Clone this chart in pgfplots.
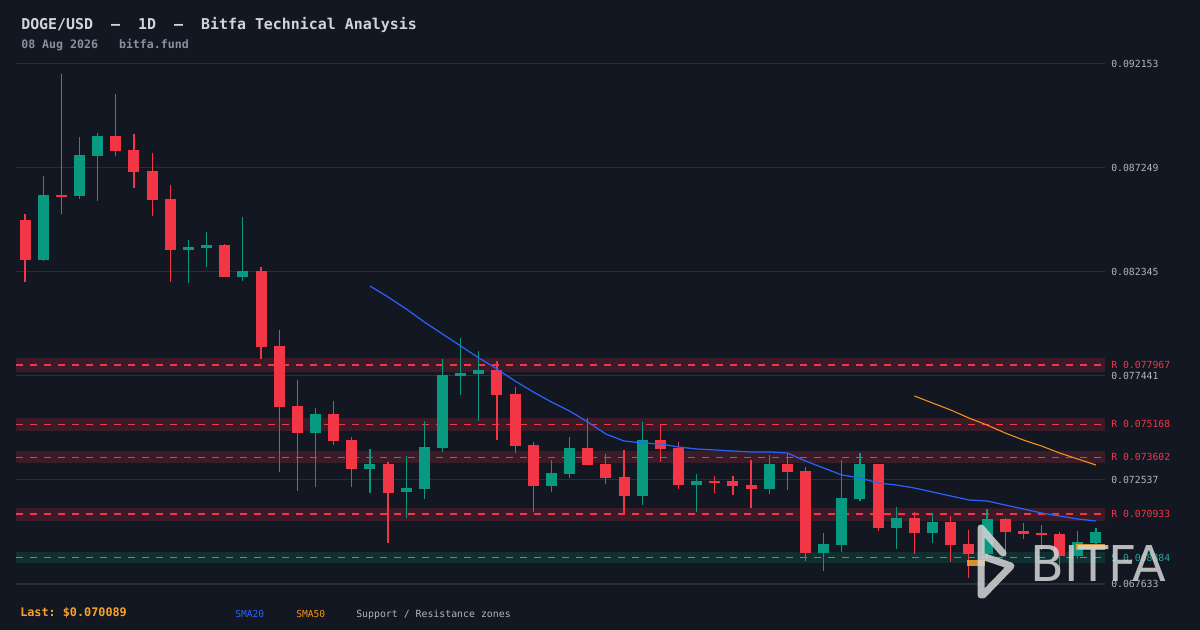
\documentclass[border=0pt]{standalone}
\usepackage{pgfplots}
\pgfplotsset{compat=1.18}
\usepackage{pgfplotstable}
\usepackage{fontspec}
\setmainfont{DejaVu Sans}
\setmonofont{DejaVu Sans Mono}
\newfontfamily\logofont{DejaVu Sans}

\definecolor{bg}{HTML}{131722}
\definecolor{gridc}{HTML}{2A2E39}
\definecolor{upc}{HTML}{089981}
\definecolor{dnc}{HTML}{F23645}
\definecolor{zr}{HTML}{3A1C28}
\definecolor{zs}{HTML}{10302F}
\definecolor{sline}{HTML}{26A69A}
\definecolor{smaA}{HTML}{2962FF}
\definecolor{smaB}{HTML}{F7931A}
\definecolor{lbl}{HTML}{B2B5BE}
\definecolor{titlec}{HTML}{D1D4DC}
\definecolor{subc}{HTML}{8A8F9C}
\definecolor{lastc}{HTML}{F7A32B}
\definecolor{logoc}{HTML}{D6D6D6}

\pgfplotstableread{
i o h l c
1 0.082911 0.086872 0.082864 0.085976
3 0.085929 0.088711 0.085787 0.087862
4 0.087815 0.088899 0.085693 0.088758
9 0.083382 0.083854 0.081826 0.083524
10 0.083477 0.084231 0.082581 0.083618
12 0.082109 0.084938 0.081921 0.082392
16 0.074753 0.075932 0.072207 0.075649
19 0.073056 0.073999 0.071924 0.073291
21 0.071971 0.073669 0.070745 0.072160
22 0.072113 0.075319 0.071641 0.074093
23 0.074046 0.078243 0.073857 0.077488
24 0.077441 0.079233 0.076545 0.077582
25 0.077535 0.078620 0.075319 0.077724
29 0.072254 0.073480 0.071971 0.072867
30 0.072820 0.074565 0.072631 0.074046
34 0.071783 0.075272 0.071358 0.074423
37 0.072301 0.072820 0.071028 0.072490
41 0.072113 0.073716 0.071877 0.073291
44 0.069095 0.070038 0.068246 0.069519
45 0.069472 0.073480 0.069142 0.071688
46 0.071641 0.073810 0.071547 0.073291
48 0.070274 0.071264 0.069283 0.070745
50 0.070038 0.070934 0.069566 0.070557
53 0.069048 0.071170 0.068859 0.070698
58 0.068953 0.070132 0.068812 0.069613
59 0.069566 0.070274 0.069519 0.070089
}\upT

\pgfplotstableread{
i o h l c
0 0.084797 0.085080 0.081873 0.082911
2 0.085976 0.091681 0.085080 0.085882
5 0.088758 0.090738 0.087815 0.088051
6 0.088098 0.088852 0.086306 0.087060
7 0.087108 0.087956 0.084986 0.085740
8 0.085787 0.086447 0.081873 0.083382
11 0.083618 0.083665 0.082109 0.082109
13 0.082392 0.082581 0.078243 0.078808
14 0.078856 0.079610 0.072914 0.075979
15 0.076026 0.077252 0.072018 0.074753
17 0.075649 0.076262 0.074187 0.074376
18 0.074423 0.074565 0.072207 0.073056
20 0.073291 0.073386 0.069566 0.071924
26 0.077724 0.078148 0.074423 0.076545
27 0.076592 0.076922 0.073810 0.074140
28 0.074187 0.074329 0.071028 0.072254
31 0.074046 0.075461 0.073244 0.073244
32 0.073291 0.073763 0.072348 0.072631
33 0.072678 0.073952 0.070887 0.071783
35 0.074423 0.075178 0.073386 0.073999
36 0.074046 0.074329 0.072113 0.072301
38 0.072490 0.072726 0.071924 0.072396
39 0.072490 0.072726 0.071830 0.072254
40 0.072301 0.073480 0.071217 0.072113
42 0.073291 0.073763 0.072065 0.072914
43 0.072961 0.073150 0.068718 0.069095
47 0.073291 0.073291 0.070132 0.070274
49 0.070745 0.071028 0.069048 0.070038
51 0.070557 0.070839 0.068670 0.069472
52 0.069519 0.070179 0.067916 0.069048
54 0.070698 0.070745 0.068906 0.070085
55 0.070132 0.070509 0.069755 0.069991
56 0.070038 0.070415 0.069236 0.069944
57 0.069991 0.070085 0.068293 0.068953
}\dnT

\pgfplotstableread{
i v
19 0.081685
20 0.081166
21 0.080600
22 0.079987
23 0.079421
24 0.078856
25 0.078290
26 0.077771
27 0.077205
28 0.076687
29 0.076215
30 0.075791
31 0.075272
32 0.074706
33 0.074376
34 0.074282
35 0.074235
36 0.074093
37 0.073999
38 0.073952
39 0.073904
40 0.073857
41 0.073857
42 0.073810
43 0.073433
44 0.073103
45 0.072773
46 0.072631
47 0.072396
48 0.072301
49 0.072160
50 0.071971
51 0.071783
52 0.071594
53 0.071547
54 0.071358
55 0.071170
56 0.070981
57 0.070839
58 0.070698
59 0.070604
}\smaAT

\pgfplotstableread{
i v
49 0.076498
50 0.076168
51 0.075838
52 0.075461
53 0.075130
54 0.074753
55 0.074423
56 0.074140
57 0.073810
58 0.073527
59 0.073244
}\smaBT

\begin{document}
\begin{tikzpicture}[x=0.75pt,y=-0.75pt]
\fill[bg] (0,0) rectangle (1200,630);
\useasboundingbox (0,0) rectangle (1200,630);
\coordinate (axpos) at (16,592);
\begin{axis}[
  at={(axpos)}, anchor=south west,
  scale only axis, width=816.75pt, height=400.5pt,
  xmin=-0.5, xmax=59.5, ymin=0.0672558, ymax=0.0924359,
  axis line style={draw=none}, tick style={draw=none},
  xtick=\empty, scaled y ticks=false,
  ytick={0.067633,0.072537,0.077441,0.082345,0.087249,0.092153},
  yticklabels={0.067633,0.072537,0.077441,0.082345,0.087249,0.092153},
  yticklabel pos=right,
  yticklabel style={font=\ttfamily\fontsize{7.35}{8}\selectfont, text=lbl, anchor=west, inner sep=0pt, xshift=4.5pt},
  ymajorgrids, grid style={gridc, line width=0.75pt},
  clip mode=individual,
]
% zones
\addplot[fill=zr, draw=none] coordinates {(-0.5,0.077616) (59.5,0.077616) (59.5,0.078276) (-0.5,0.078276)};
\addplot[fill=zr, draw=none] coordinates {(-0.5,0.074862) (59.5,0.074862) (59.5,0.075447) (-0.5,0.075447)};
\addplot[fill=zr, draw=none] coordinates {(-0.5,0.073324) (59.5,0.073324) (59.5,0.073904) (-0.5,0.073904)};
\addplot[fill=zr, draw=none] coordinates {(-0.5,0.070618) (59.5,0.070618) (59.5,0.071203) (-0.5,0.071203)};
\addplot[fill=zs, draw=none] coordinates {(-0.5,0.068638) (59.5,0.068638) (59.5,0.069156) (-0.5,0.069156)};
\addplot[dnc, line width=1pt, dash pattern=on 5.5pt off 5pt] coordinates {(-0.5,0.077967) (59.5,0.077967)};
\addplot[dnc, line width=1pt, dash pattern=on 5.5pt off 5pt] coordinates {(-0.5,0.075168) (59.5,0.075168)};
\addplot[dnc, line width=1pt, dash pattern=on 5.5pt off 5pt] coordinates {(-0.5,0.073602) (59.5,0.073602)};
\addplot[dnc, line width=1pt, dash pattern=on 5.5pt off 5pt] coordinates {(-0.5,0.070933) (59.5,0.070933)};
\addplot[sline, line width=1pt, dash pattern=on 5pt off 5.5pt] coordinates {(-0.5,0.068884) (59.5,0.068884)};
% wicks
\addplot[draw=none, mark=none, error bars/.cd, y dir=both, y explicit, error mark=none,
  error bar style={draw=upc, line width=0.9pt, solid}]
  table[x=i, y expr={(\thisrow{h}+\thisrow{l})/2}, y error expr={(\thisrow{h}-\thisrow{l})/2}] {\upT};
\addplot[draw=none, mark=none, error bars/.cd, y dir=both, y explicit, error mark=none,
  error bar style={draw=dnc, line width=0.9pt, solid}]
  table[x=i, y expr={(\thisrow{h}+\thisrow{l})/2}, y error expr={(\thisrow{h}-\thisrow{l})/2}] {\dnT};
% bodies
\addplot[draw=none, mark=none, error bars/.cd, y dir=both, y explicit, error mark=none,
  error bar style={draw=upc, line width=8.25pt, solid}]
  table[x=i, y expr={(\thisrow{o}+\thisrow{c})/2}, y error expr={(\thisrow{c}-\thisrow{o})/2}] {\upT};
\addplot[draw=none, mark=none, error bars/.cd, y dir=both, y explicit, error mark=none,
  error bar style={draw=dnc, line width=8.25pt, solid}]
  table[x=i, y expr={(\thisrow{o}+\thisrow{c})/2}, y error expr={(\thisrow{o}-\thisrow{c})/2}] {\dnT};
% moving averages
\addplot[smaA, line width=0.9pt, mark=none] table[x=i, y=v] {\smaAT};
\addplot[smaB, line width=0.8pt, mark=none] table[x=i, y=v] {\smaBT};
% price markers
\addplot[lastc, line width=4pt, opacity=0.85] coordinates {(57.9,0.069378) (59.5,0.069378)};
\addplot[lastc, line width=4pt, opacity=0.85] coordinates {(51.9,0.068623) (52.9,0.068623)};
% zone labels
\node[anchor=west, inner sep=0pt, xshift=4.5pt, text=dnc, font=\ttfamily\fontsize{7.35}{8}\selectfont] at (axis cs:59.5,0.077967) {R 0.077967};
\node[anchor=west, inner sep=0pt, xshift=4.5pt, text=dnc, font=\ttfamily\fontsize{7.35}{8}\selectfont] at (axis cs:59.5,0.075168) {R 0.075168};
\node[anchor=west, inner sep=0pt, xshift=4.5pt, text=dnc, font=\ttfamily\fontsize{7.35}{8}\selectfont] at (axis cs:59.5,0.073602) {R 0.073602};
\node[anchor=west, inner sep=0pt, xshift=4.5pt, text=dnc, font=\ttfamily\fontsize{7.35}{8}\selectfont] at (axis cs:59.5,0.070933) {R 0.070933};
\node[anchor=west, inner sep=0pt, xshift=4.5pt, text=sline, font=\ttfamily\fontsize{7.35}{8}\selectfont] at (axis cs:59.5,0.068884) {S 0.068884};
\end{axis}
% titles
\node[anchor=base west, inner sep=0pt, text=titlec, font=\ttfamily\bfseries\fontsize{11.2}{13}\selectfont] at (21,29.5) {DOGE/USD\ \ –\ \ 1D\ \ –\ \ Bitfa Technical Analysis};
\node[anchor=base west, inner sep=0pt, text=subc, font=\ttfamily\bfseries\fontsize{8.7}{10}\selectfont] at (21,49) {08 Aug 2026\ \ \ bitfa.fund};
% footer
\node[anchor=base west, inner sep=0pt, text=lastc, font=\ttfamily\bfseries\fontsize{8.85}{10}\selectfont] at (20,617) {Last: \$0.070089};
\node[anchor=base west, inner sep=0pt, text=smaA, font=\ttfamily\fontsize{7.2}{9}\selectfont] at (235,618) {SMA20};
\node[anchor=base west, inner sep=0pt, text=smaB, font=\ttfamily\fontsize{7.2}{9}\selectfont] at (296,618) {SMA50};
\node[anchor=base west, inner sep=0pt, text=lbl, font=\ttfamily\fontsize{7.4}{9}\selectfont] at (356,618) {Support / Resistance zones};
% watermark logo
\draw[logoc, opacity=0.85, line width=5.25pt, line cap=round, line join=round]
  (981,528) -- (981,595) (981,528) -- (1003,553) (985,557) -- (1011,566) -- (983,595);
\node[anchor=base west, inner sep=0pt, text=logoc, opacity=0.85, font=\logofont\fontsize{37}{40}\selectfont] at (1030,582) {BITFA};
\end{tikzpicture}
\end{document}
